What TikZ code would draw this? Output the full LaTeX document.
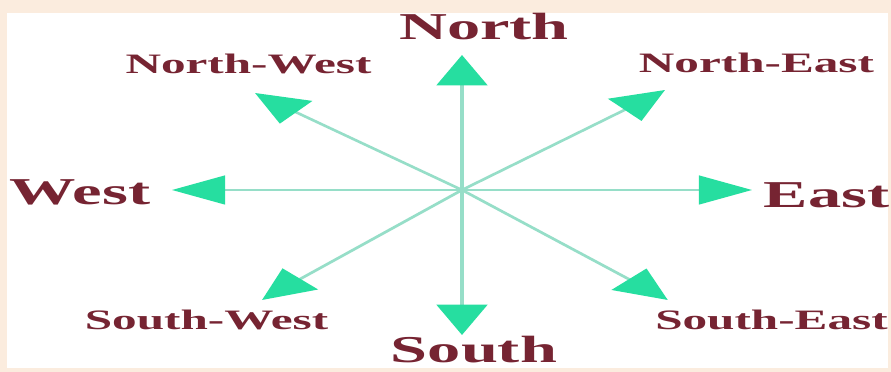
\documentclass[tikz,border=0pt]{standalone}
\usepackage{fontspec}
\setmainfont{Liberation Serif}
\usetikzlibrary{arrows.meta}

\definecolor{framepeach}{RGB}{251,236,222}
\definecolor{dirred}{RGB}{118,36,50}
\definecolor{arrowgreen}{RGB}{38,222,160}
\definecolor{linegreen}{RGB}{150,222,200}

\tikzset{
    dirarrow/.style={draw=linegreen, line width=1.6pt,
        -{Triangle[length=0.76cm, width=0.72cm, color=arrowgreen]}},
    mainlabel/.style={text=dirred, font=\fontsize{27}{30}\selectfont\bfseries},
    sublabel/.style={text=dirred, font=\fontsize{20}{22}\selectfont\bfseries},
}

\begin{document}
\begin{tikzpicture}
    \useasboundingbox (-11.55,-4.55) rectangle (10.725,4.75);
    \fill[framepeach] (-11.55,-4.55) rectangle (10.725,4.75);
    \fill[white] (-11.375,-4.45) rectangle (10.65,4.425);

    % the whole compass is stretched sideways
    \begin{scope}[transform canvas={xscale=1.75}]
        \coordinate (O) at (0,0);
        \coordinate (tipN) at (0,3.375);
        \coordinate (tipS) at (0,-3.625);
        \coordinate (tipW) at (-4.143,0);
        \coordinate (tipE) at (4.143,0);
        \coordinate (tipNW) at (-2.957,2.425);
        \coordinate (tipNE) at (2.9,2.5);
        \coordinate (tipSW) at (-2.857,-2.75);
        \coordinate (tipSE) at (2.94,-2.75);

        \draw[dirarrow] (O) -- (tipNW);
        \draw[dirarrow] (O) -- (tipNE);
        \draw[dirarrow] (O) -- (tipSW);
        \draw[dirarrow] (O) -- (tipSE);
        \draw[dirarrow] (O) -- (tipW);
        \draw[dirarrow] (O) -- (tipE);
        \draw[dirarrow] (O) -- (tipN);
        \draw[dirarrow] (O) -- (tipS);

        \node[mainlabel] (north) at (0.314,4.075) {North};
        \node[mainlabel] (south) at (0.171,-4.0) {South};
        \node[mainlabel] (west) at (-5.457,-0.05) {West};
        \node[mainlabel] (east) at (5.207,-0.125) {East};
        \node[sublabel] (northwest) at (-3.05,3.15) {North-West};
        \node[sublabel] (northeast) at (4.207,3.175) {North-East};
        \node[sublabel] (southwest) at (-3.65,-3.25) {South-West};
        \node[sublabel] (southeast) at (4.421,-3.25) {South-East};
    \end{scope}
\end{tikzpicture}
\end{document}
